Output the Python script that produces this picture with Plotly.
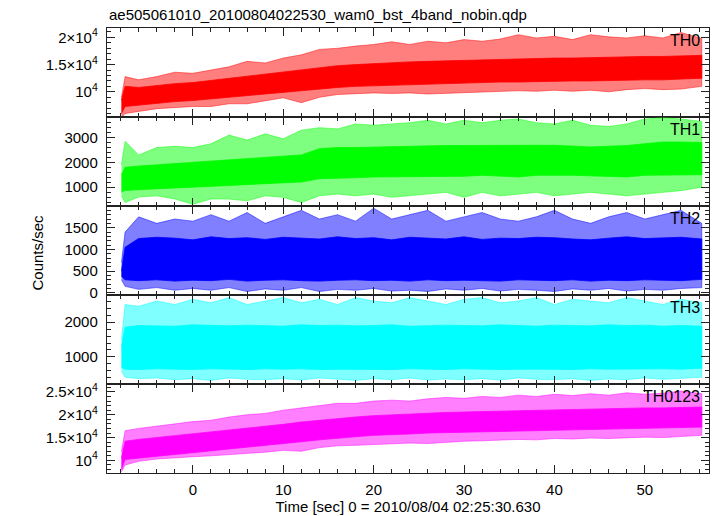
import plotly.graph_objects as go
from plotly.subplots import make_subplots

TITLE = "ae505061010_20100804022530_wam0_bst_4band_nobin.qdp"
XTITLE = "Time [sec] 0 = 2010/08/04 02:25:30.630"
YTITLE = "Counts/sec"
LABELS = ["TH0", "TH1", "TH2", "TH3", "TH0123"]
COLORS = ["#ff0000", "#00ff00", "#0000ff", "#00ffff", "#ff00ff"]

# sample times (s) at which the envelopes of the light curves were read
T = [-7.9, -7.5, -6, -4, -2, 0, 2, 4, 6, 8, 10, 12, 14, 16, 18, 20, 22, 24, 26, 28,
     30, 32, 34, 36, 38, 40, 42, 44, 46, 48, 50, 52, 54, 56.3]

# TH0: spike envelope (max / min) and dense core (upper / lower)
th0_max = [9000, 12800, 12200, 12800, 13600, 13400, 14000, 14600, 15600, 15300, 16200, 16800,
           17800, 18000, 18400, 18700, 19200, 18700, 19300, 19000, 19600, 19300, 19700, 20500,
           19900, 20200, 19600, 20500, 20100, 19900, 20300, 19900, 20900, 19800]
th0_min = [5300, 6000, 6400, 6900, 7100, 7300, 7300, 7800, 7800, 8300, 8900, 8000,
           9000, 9500, 9600, 9800, 9700, 9800, 9600, 9700, 9900, 10000, 10100, 10200,
           10100, 10300, 10100, 10300, 10000, 10400, 10600, 10400, 10500, 11000]
th0_hi = [8500, 11000, 10800, 11200, 11500, 11700, 12100, 12500, 12900, 13200, 13600, 14100,
          14500, 14800, 15000, 15200, 15400, 15500, 15600, 15700, 15800, 15900, 16000, 16100,
          16100, 16200, 16200, 16300, 16300, 16400, 16500, 16500, 16600, 16700]
th0_lo = [6000, 7300, 7600, 7900, 8200, 8400, 8600, 8900, 9200, 9500, 9800, 10200,
          10500, 10800, 11000, 11200, 11300, 11400, 11400, 11500, 11600, 11700, 11800, 11800,
          11900, 11900, 12000, 12000, 12000, 12100, 12200, 12200, 12300, 12500]

# TH1
th1_max = [1900, 2850, 2300, 2600, 2650, 2600, 2750, 3100, 2900, 3150, 2950, 3300,
           3400, 3350, 3550, 3500, 3550, 3600, 3700, 3550, 3700, 3600, 3700, 3750,
           3600, 3550, 3700, 3500, 3450, 3550, 3750, 3800, 3750, 3650]
th1_min = [650, 380, 600, 650, 520, 310, 520, 520, 450, 650, 590, 380,
           650, 720, 650, 720, 590, 650, 720, 790, 590, 790, 650, 720,
           790, 650, 720, 790, 720, 650, 720, 790, 860, 1000]
th1_hi = [1500, 1800, 1850, 1900, 1950, 2000, 2050, 2100, 2150, 2180, 2220, 2300,
          2550, 2600, 2600, 2620, 2650, 2670, 2680, 2680, 2680, 2690, 2690, 2690,
          2690, 2690, 2650, 2620, 2650, 2680, 2750, 2820, 2820, 2800]
th1_lo = [800, 870, 900, 930, 970, 1000, 1030, 1070, 1100, 1140, 1170, 1210,
          1340, 1360, 1380, 1410, 1410, 1410, 1410, 1440, 1440, 1480, 1450, 1410,
          1480, 1480, 1480, 1480, 1440, 1410, 1480, 1480, 1500, 1500]

# TH2
th2_max = [700, 1400, 1750, 1600, 1700, 1650, 1800, 1650, 1850, 1600, 1750, 1900,
           1700, 1800, 1650, 1950, 1700, 1800, 1900, 1650, 1750, 1850, 1700, 1650,
           1750, 1900, 1700, 1600, 1750, 1850, 1700, 1800, 1900, 1600]
th2_min = [300, 150, 80, 120, 60, 100, 60, 120, 30, 90, 60, 120,
           30, 80, 60, 100, 40, 60, 30, 90, 60, 100, 40, 80,
           60, 30, 90, 60, 100, 40, 80, 60, 100, 120]
th2_hi = [500, 1050, 1250, 1280, 1260, 1220, 1290, 1250, 1270, 1230, 1280, 1260,
          1240, 1290, 1250, 1270, 1220, 1280, 1260, 1240, 1290, 1230, 1260, 1250,
          1280, 1270, 1240, 1220, 1260, 1290, 1250, 1270, 1280, 1240]
th2_lo = [380, 300, 280, 300, 270, 290, 280, 310, 270, 290, 300, 280,
          270, 290, 300, 280, 290, 270, 300, 280, 290, 280, 270, 300,
          290, 280, 300, 270, 290, 280, 300, 290, 280, 310]

# TH3
th3_max = [1500, 2500, 2450, 2600, 2500, 2650, 2550, 2700, 2500, 2600, 2700, 2550,
           2650, 2500, 2700, 2600, 2550, 2700, 2600, 2500, 2650, 2700, 2550, 2600,
           2700, 2500, 2650, 2600, 2550, 2700, 2600, 2500, 2650, 2550]
th3_min = [600, 420, 380, 400, 350, 380, 330, 400, 360, 350, 380, 340,
           400, 360, 330, 380, 350, 400, 340, 370, 350, 380, 340, 400,
           360, 350, 380, 330, 370, 350, 400, 360, 380, 420]
th3_hi = [1300, 1850, 1900, 1900, 1880, 1920, 1900, 1890, 1910, 1900, 1880, 1920,
          1900, 1910, 1890, 1900, 1920, 1880, 1900, 1910, 1900, 1890, 1920, 1900,
          1880, 1910, 1900, 1890, 1920, 1900, 1910, 1880, 1900, 1880]
th3_lo = [700, 650, 640, 660, 650, 640, 660, 650, 640, 660, 650, 660,
          640, 650, 660, 650, 640, 660, 650, 640, 660, 650, 640, 650,
          660, 650, 640, 660, 650, 640, 650, 660, 650, 680]

# TH0123
th5_max = [12000, 16500, 17000, 17500, 18000, 18500, 18800, 19500, 20000, 20300, 21000, 21500,
           22000, 22500, 22500, 23000, 23200, 23000, 23500, 23800, 23600, 24000, 23800, 24300,
           24000, 24500, 24200, 24600, 24300, 24800, 24500, 24700, 25200, 24600]
th5_min = [7500, 9000, 9800, 10300, 10500, 10800, 11000, 11300, 11500, 11800, 12200, 12000,
           12800, 13200, 13300, 13500, 13600, 13800, 13700, 14000, 14200, 14300, 14400, 14600,
           14500, 14800, 14700, 14900, 14800, 15000, 15100, 15000, 15300, 15500]
th5_hi = [10500, 14200, 14600, 15000, 15400, 15800, 16200, 16700, 17100, 17500, 17900, 18400,
          18800, 19200, 19500, 19800, 20000, 20200, 20300, 20500, 20600, 20700, 20800, 20900,
          21000, 21100, 21200, 21200, 21300, 21400, 21500, 21500, 21600, 21700]
th5_lo = [8000, 10200, 10600, 11000, 11400, 11800, 12100, 12500, 12900, 13300, 13700, 14100,
          14500, 14900, 15200, 15500, 15700, 15800, 16000, 16100, 16200, 16300, 16400, 16500,
          16600, 16700, 16800, 16800, 16900, 17000, 17100, 17100, 17200, 17300]

SERIES = [
    (th0_max, th0_min, th0_hi, th0_lo),
    (th1_max, th1_min, th1_hi, th1_lo),
    (th2_max, th2_min, th2_hi, th2_lo),
    (th3_max, th3_min, th3_hi, th3_lo),
    (th5_max, th5_min, th5_hi, th5_lo),
]

YRANGES = [[5370, 21730], [240, 3830], [-50, 2000], [227, 2773], [7240, 26740]]
YTICKVALS = [[10000, 15000, 20000], [1000, 2000, 3000], [0, 500, 1000, 1500],
             [1000, 2000], [10000, 15000, 20000, 25000]]
YTICKTEXT = [["10<sup>4</sup>", "1.5×10<sup>4</sup>", "2×10<sup>4</sup>"],
             ["1000", "2000", "3000"], ["0", "500", "1000", "1500"],
             ["1000", "2000"],
             ["10<sup>4</sup>", "1.5×10<sup>4</sup>", "2×10<sup>4</sup>", "2.5×10<sup>4</sup>"]]
YMINOR = [1000, 200, 100, 200, 1000]
XTICKS = [0, 10, 20, 30, 40, 50]


def rgba(hexc, a):
    h = hexc.lstrip("#")
    return "rgba(%d,%d,%d,%.2f)" % (int(h[0:2], 16), int(h[2:4], 16), int(h[4:6], 16), a)


FONT = "Liberation Sans, Arial, sans-serif"

fig = make_subplots(rows=5, cols=1, shared_xaxes=True, vertical_spacing=0)

for i, (smax, smin, shi, slo) in enumerate(SERIES):
    row = i + 1
    c = COLORS[i]
    fig.add_trace(go.Scatter(x=T + T[::-1], y=smax + smin[::-1], fill="toself",
                             fillcolor=rgba(c, 0.5), mode="lines",
                             line=dict(color=rgba(c, 0.6), width=0.8),
                             showlegend=False, hoverinfo="skip"), row=row, col=1)
    fig.add_trace(go.Scatter(x=T + T[::-1], y=shi + slo[::-1], fill="toself",
                             fillcolor=c, mode="lines", line=dict(color=c, width=0.8),
                             showlegend=False, hoverinfo="skip"), row=row, col=1)
    fig.update_yaxes(range=YRANGES[i], tickmode="array", tickvals=YTICKVALS[i],
                     ticktext=YTICKTEXT[i], ticks="inside", ticklen=8, tickwidth=1,
                     tickcolor="#222", showline=True, linecolor="#222", linewidth=1.2,
                     mirror="allticks", showgrid=False, zeroline=False,
                     ticklabelstandoff=5,
                     tickfont=dict(family=FONT, size=15, color="#000"),
                     minor=dict(tickmode="linear", tick0=0, dtick=YMINOR[i], ticks="inside",
                                ticklen=4, tickcolor="#222", showgrid=False),
                     row=row, col=1)
    fig.update_xaxes(range=[-9.5, 57.1], tickmode="array", tickvals=XTICKS,
                     ticks="inside", ticklen=8, tickwidth=1, tickcolor="#222",
                     showline=True, linecolor="#222", linewidth=1.2, mirror="allticks",
                     showgrid=False, zeroline=False, ticklabelstandoff=3,
                     tickfont=dict(family=FONT, size=15, color="#000"),
                     minor=dict(tickmode="linear", tick0=0, dtick=2, ticks="inside",
                                ticklen=4, tickcolor="#222", showgrid=False),
                     row=row, col=1)

fig.update_xaxes(showticklabels=True, row=5, col=1)
fig.update_xaxes(title=dict(text=XTITLE, font=dict(family=FONT, size=15, color="#000"),
                            standoff=0), row=5, col=1)

annotations = []
for i, lab in enumerate(LABELS):
    yref = "y domain" if i == 0 else "y%d domain" % (i + 1)
    annotations.append(dict(text=lab, xref="x domain", yref=yref, x=0.988, y=0.98,
                            xanchor="right", yanchor="top", showarrow=False,
                            font=dict(family=FONT, size=16, color="#000")))
annotations.append(dict(text=YTITLE, xref="paper", yref="paper", x=-0.115, y=0.495,
                        xanchor="center", yanchor="middle", textangle=-90, showarrow=False,
                        font=dict(family=FONT, size=15, color="#000")))
annotations.append(dict(text=TITLE, xref="paper", yref="paper", x=0.0, y=1.0,
                        xanchor="left", yanchor="bottom", yshift=3, showarrow=False,
                        font=dict(family=FONT, size=15, color="#000")))

fig.update_layout(width=717, height=516, margin=dict(l=107, r=7, t=28, b=40),
                  paper_bgcolor="white", plot_bgcolor="white",
                  annotations=annotations, showlegend=False)

fig.write_html("out.html", config={"displayModeBar": False, "staticPlot": True},
               post_script="document.body.style.margin='0';document.body.style.overflow='hidden';")
